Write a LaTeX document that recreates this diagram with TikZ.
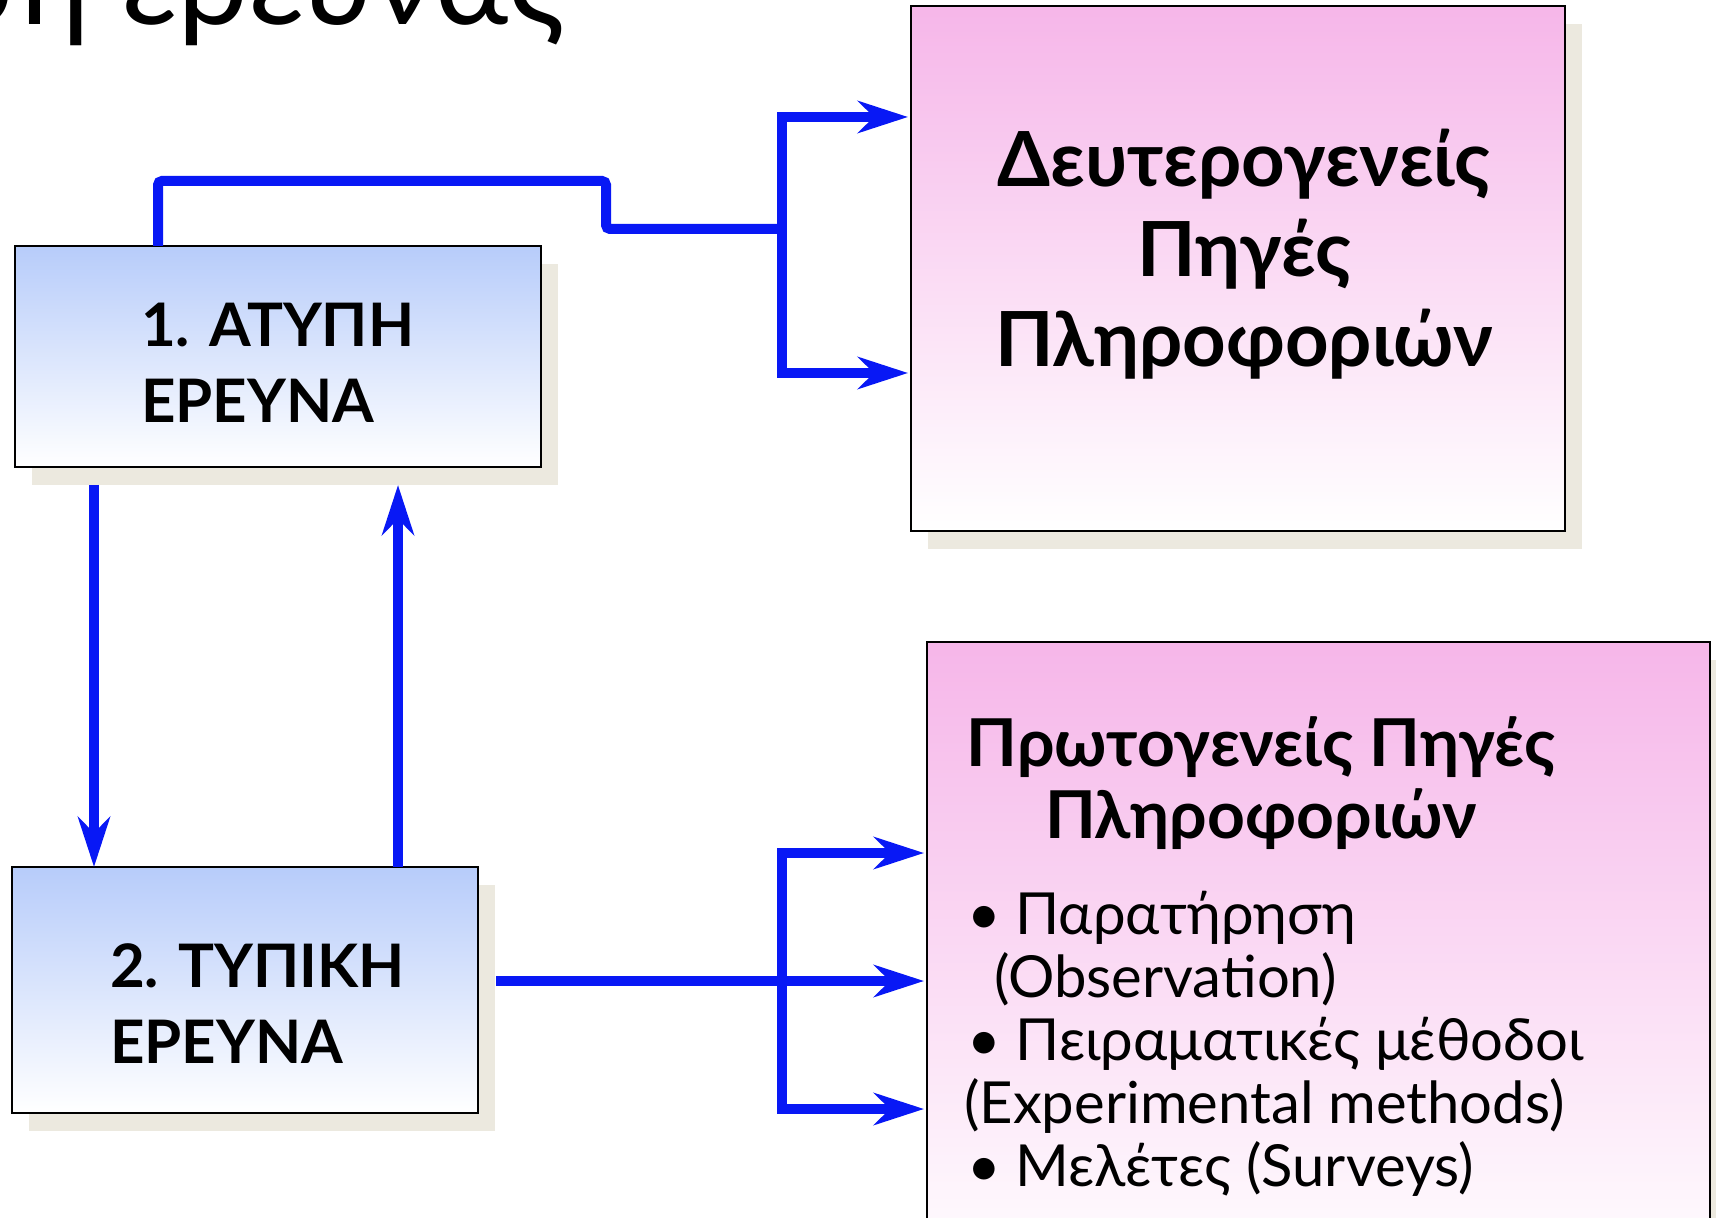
\documentclass[tikz,border=0pt]{standalone}
\usepackage{fontspec}
\setmainfont{Lato}
\usetikzlibrary{arrows.meta,shadows,calc}
\definecolor{arrowblue}{RGB}{8,24,245}
\definecolor{shadowbeige}{RGB}{236,233,223}
\definecolor{boxblue}{RGB}{183,204,250}
\definecolor{boxpink}{RGB}{246,182,233}
\begin{document}
\begin{tikzpicture}[x=0.5pt,y=-0.5pt,
  every node/.style={inner sep=0pt, outer sep=0pt},
  boxshape/.style={draw=black, line width=1.2pt, anchor=north west,
    general shadow={fill=shadowbeige, shadow xshift=8.5pt, shadow yshift=-9pt}},
  bluebox/.style={boxshape, top color=boxblue, bottom color=white},
  pinkbox/.style={boxshape, top color=boxpink, bottom color=white},
  conn/.style={draw=arrowblue, line width=5pt},
  tip/.style={-{Stealth[length=25pt,width=16pt,inset=8pt]}},
  tips/.style={{Stealth[length=25pt,width=16pt,inset=8pt]}-{Stealth[length=25pt,width=16pt,inset=8pt]}},
  boxtext/.style={anchor=base west, font=\fontsize{30pt}{36pt}\selectfont\bfseries},
  headtext/.style={anchor=base, font=\fontsize{38pt}{44pt}\selectfont\bfseries},
  headtextb/.style={anchor=base, font=\fontsize{33pt}{38pt}\selectfont\bfseries},
  bodytext/.style={anchor=base west, font=\fontsize{29pt}{32pt}\selectfont},
]
\useasboundingbox (0,0) rectangle (1716,1218);
\fill[white] (0,0) rectangle (1716,1218);

% title (cut by the page top, as in the reference)
\node[anchor=base east, font=\fontsize{62pt}{70pt}\selectfont] (title) at (566,25) {ση έρευνας};

% boxes
\node[bluebox, minimum width=263pt, minimum height=110.5pt] (b1) at (15,246) {};
\node[bluebox, minimum width=233pt, minimum height=123pt] (b2) at (12,867) {};
\node[pinkbox, minimum width=327pt, minimum height=262.5pt] (b3) at (911,6) {};
\node[pinkbox, minimum width=391.5pt, minimum height=320pt] (b4) at (927,642) {};

% box texts
\node[boxtext] (t1a) at (141,347) {1. ΑΤΥΠΗ};
\node[boxtext] (t1b) at (141,423) {ΕΡΕΥΝΑ};
\node[boxtext] (t2a) at (110,987) {2. ΤΥΠΙΚΗ};
\node[boxtext] (t2b) at (110,1063) {ΕΡΕΥΝΑ};

\node[headtext] (t3a) at (1244,187) {Δευτερογενείς};
\node[headtext] (t3b) at (1244,277) {Πηγές};
\node[headtext] (t3c) at (1244,367) {Πληροφοριών};

\node[headtextb] (t4a) at (1261,766) {Πρωτογενείς Πηγές};
\node[headtextb] (t4b) at (1261,838) {Πληροφοριών};
\node[bodytext] (p1) at (967,934) {• Παρατήρηση};
\node[bodytext] (p2) at (994,997) {(Observation)};
\node[bodytext] (p3) at (967,1060) {• Πειραματικές μέθοδοι};
\node[bodytext] (p4) at (964,1123) {(Experimental methods)};
\node[bodytext] (p5) at (967,1186) {• Μελέτες (Surveys)};

% connector coordinates
\coordinate (s1) at (606,181);
\coordinate (j1) at (782,229);
\coordinate (ja) at (782,117);
\coordinate (jb) at (782,373);
\coordinate (m2) at (782,981);
\coordinate (ka) at (782,853);
\coordinate (kb) at (782,1109);

% connectors
\draw[conn, rounded corners=2pt] ($(b1.north west)+(143,0)$) |- (s1) |- (j1);
\draw[conn, tips, shorten <=1.5pt, shorten >=1.5pt] (ja -| b3.west) -- (ja) -- (jb) -- (jb -| b3.west);
\draw[conn, tip] ($(b1.south west)+(79,18)$) -- ($(b2.north west)+(82,0)$);
\draw[conn, tip] ($(b2.north west)+(386,0)$) -- ($(b1.south west)+(383,18)$);
\draw[conn, tip, shorten >=1.5pt] ($(b2.north east)+(18,114)$) -- (m2 -| b4.west);
\draw[conn, tips, shorten <=1.5pt, shorten >=1.5pt] (ka -| b4.west) -- (ka) -- (kb) -- (kb -| b4.west);
\end{tikzpicture}
\end{document}
